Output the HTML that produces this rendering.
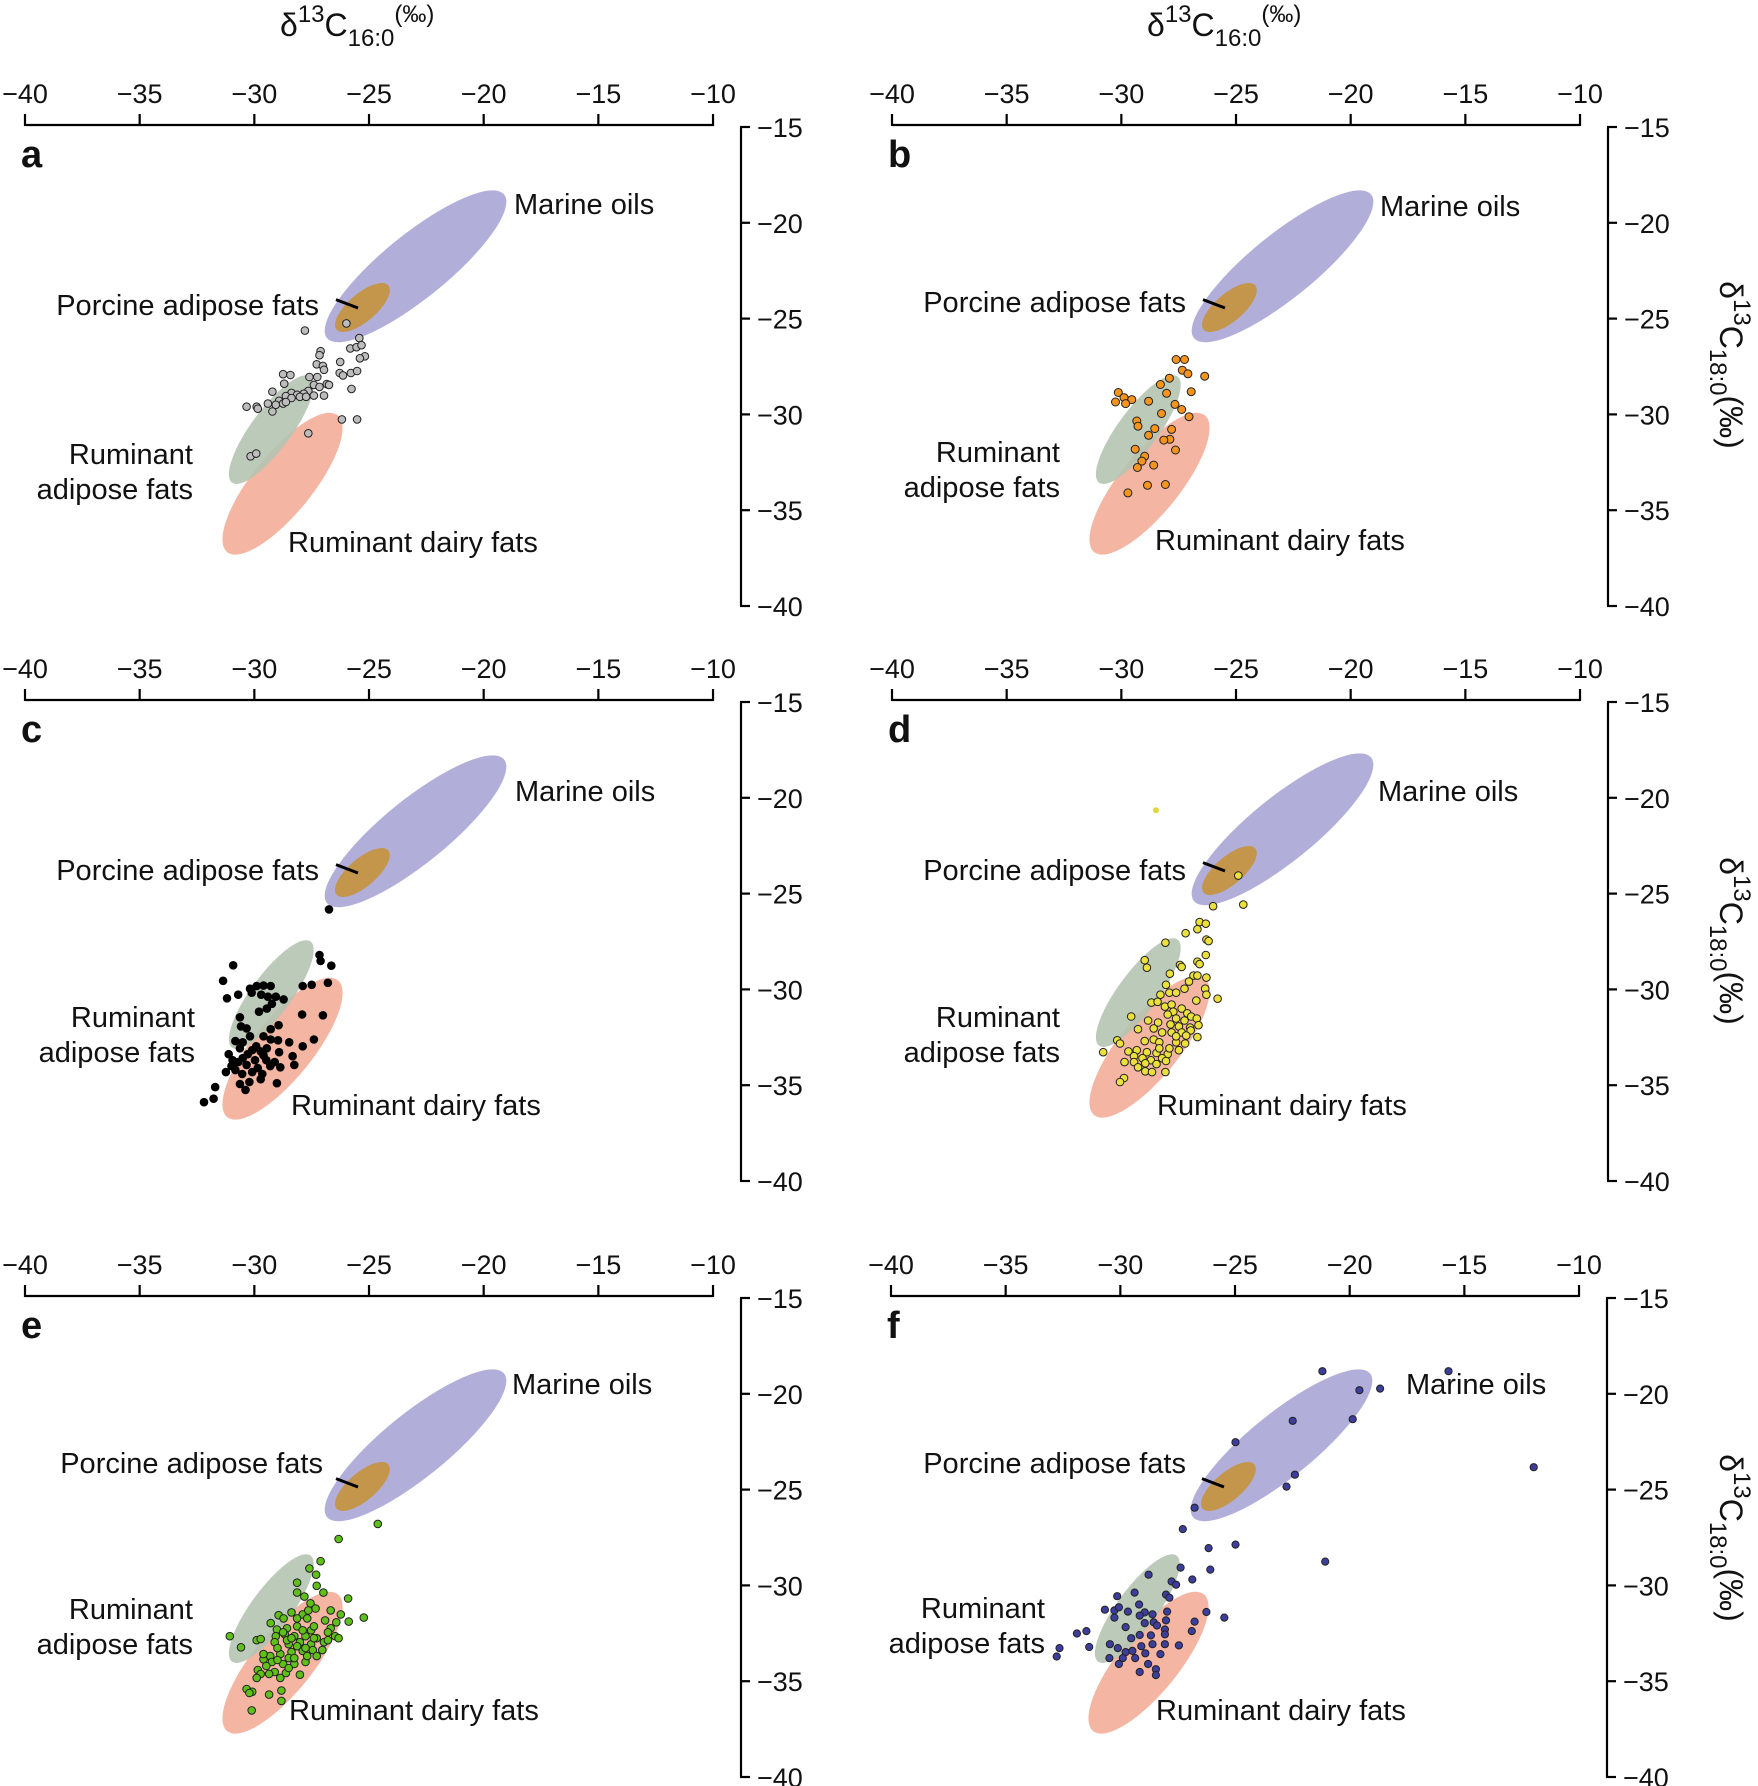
<!DOCTYPE html>
<html><head><meta charset="utf-8"><style>
html,body{margin:0;padding:0;background:#fff}
svg{display:block}
text{font-family:"Liberation Sans",Arial,sans-serif;fill:#111}
.t{font-size:27px}
.l{font-size:29px}
.h{font-size:32px}
.p{font-size:38px;font-weight:bold}
</style></head><body>
<svg id="s" width="1758" height="1786" viewBox="0 0 1758 1786" xmlns="http://www.w3.org/2000/svg">
<text x="280" y="36" class="h">δ<tspan dy="-14" font-size="24">13</tspan><tspan dy="14">C</tspan><tspan dy="10" font-size="24">16:0</tspan><tspan dy="-24" font-size="24">(‰)</tspan></text>
<text x="1147" y="36" class="h">δ<tspan dy="-14" font-size="24">13</tspan><tspan dy="14">C</tspan><tspan dy="10" font-size="24">16:0</tspan><tspan dy="-24" font-size="24">(‰)</tspan></text>
<text transform="translate(1720,365) rotate(90)" text-anchor="middle" class="h">δ<tspan dy="-14" font-size="24">13</tspan><tspan dy="14">C</tspan><tspan dy="10" font-size="24">18:0</tspan><tspan dy="-10">(‰)</tspan></text>
<text transform="translate(1720,941) rotate(90)" text-anchor="middle" class="h">δ<tspan dy="-14" font-size="24">13</tspan><tspan dy="14">C</tspan><tspan dy="10" font-size="24">18:0</tspan><tspan dy="-10">(‰)</tspan></text>
<text transform="translate(1720,1538) rotate(90)" text-anchor="middle" class="h">δ<tspan dy="-14" font-size="24">13</tspan><tspan dy="14">C</tspan><tspan dy="10" font-size="24">18:0</tspan><tspan dy="-10">(‰)</tspan></text>

<g id="pa" transform="translate(25,125)">
<text x="-4" y="42" class="p">a</text>
<text x="489" y="89" class="l">Marine oils</text>
<text x="294" y="190" class="l" text-anchor="end">Porcine adipose fats</text>
<text x="168" y="339" class="l" text-anchor="end">Ruminant</text>
<text x="168" y="374" class="l" text-anchor="end">adipose fats</text>
<text x="263" y="427" class="l">Ruminant dairy fats</text>
</g>
<g id="pb" transform="translate(892,125)">
<text x="-4" y="42" class="p">b</text>
<text x="488" y="91" class="l">Marine oils</text>
<text x="294" y="187" class="l" text-anchor="end">Porcine adipose fats</text>
<text x="168" y="337" class="l" text-anchor="end">Ruminant</text>
<text x="168" y="372" class="l" text-anchor="end">adipose fats</text>
<text x="263" y="425" class="l">Ruminant dairy fats</text>
</g>
<g id="pc" transform="translate(25,700)">
<text x="-4" y="42" class="p">c</text>
<text x="490" y="101" class="l">Marine oils</text>
<text x="294" y="180" class="l" text-anchor="end">Porcine adipose fats</text>
<text x="170" y="327" class="l" text-anchor="end">Ruminant</text>
<text x="170" y="362" class="l" text-anchor="end">adipose fats</text>
<text x="266" y="415" class="l">Ruminant dairy fats</text>
</g>
<g id="pd" transform="translate(892,700)">
<text x="-4" y="42" class="p">d</text>
<text x="486" y="101" class="l">Marine oils</text>
<text x="294" y="180" class="l" text-anchor="end">Porcine adipose fats</text>
<text x="168" y="327" class="l" text-anchor="end">Ruminant</text>
<text x="168" y="362" class="l" text-anchor="end">adipose fats</text>
<text x="265" y="415" class="l">Ruminant dairy fats</text>
</g>
<g id="pe" transform="translate(25,1296)">
<text x="-4" y="42" class="p">e</text>
<text x="487" y="98" class="l">Marine oils</text>
<text x="298" y="177" class="l" text-anchor="end">Porcine adipose fats</text>
<text x="168" y="323" class="l" text-anchor="end">Ruminant</text>
<text x="168" y="358" class="l" text-anchor="end">adipose fats</text>
<text x="264" y="424" class="l">Ruminant dairy fats</text>
</g>
<g id="pf" transform="translate(891,1296)">
<text x="-4" y="42" class="p">f</text>
<text x="515" y="98" class="l">Marine oils</text>
<text x="295" y="177" class="l" text-anchor="end">Porcine adipose fats</text>
<text x="154" y="322" class="l" text-anchor="end">Ruminant</text>
<text x="154" y="357" class="l" text-anchor="end">adipose fats</text>
<text x="265" y="424" class="l">Ruminant dairy fats</text>
</g>
</svg>
<script>
var NS="http://www.w3.org/2000/svg",S=document.getElementById("s");
function el(p,t,a){var e=document.createElementNS(NS,t);for(var k in a)e.setAttribute(k,a[k]);p.appendChild(e);return e;}
var panels=["pa","pb","pc","pd","pe","pf"];
var labs=["−40","−35","−30","−25","−20","−15","−10"],ylabs=["−15","−20","−25","−30","−35","−40"];
var oy={pa:0,pb:0,pc:-10,pd:-12,pe:8,pf:8};
panels.forEach(function(id){
 var g=document.getElementById(id);var first=g.firstChild;
 var bg=document.createElementNS(NS,"g");g.insertBefore(bg,first);
 var d=oy[id];
 var sh=el(bg,"g",{transform:"translate(0,"+d+")"});
 el(sh,"ellipse",{cx:257.5,cy:358.7,rx:88,ry:30,fill:"#f4b5a3",transform:"rotate(-51 257.5 358.7)"});
 el(sh,"ellipse",{cx:246.3,cy:304.6,rx:66,ry:20,fill:"#b5c4b1","fill-opacity":0.9,transform:"rotate(-53.5 246.3 304.6)"});
 el(sh,"ellipse",{cx:390.5,cy:141.3,rx:114,ry:32,fill:"#b1afda",transform:"rotate(-39 390.5 141.3)"});
 el(sh,"ellipse",{cx:337.4,cy:182.5,rx:34,ry:14,fill:"#c4964c",transform:"rotate(-40.5 337.4 182.5)"});
 el(sh,"line",{x1:311,y1:174.6,x2:333,y2:183,stroke:"#000","stroke-width":3});
 el(g,"line",{x1:0,y1:0,x2:688,y2:0,stroke:"#000","stroke-width":2.2});
 for(var i=0;i<7;i++){var x=i*114.67;el(g,"line",{x1:x,y1:-11,x2:x,y2:1,stroke:"#000","stroke-width":2.2});
  var t=el(g,"text",{x:x,y:-22,"text-anchor":"middle","class":"t"});t.textContent=labs[i];}
 el(g,"line",{x1:716,y1:2,x2:716,y2:481,stroke:"#000","stroke-width":2.2});
 for(var j=0;j<6;j++){var y=2+j*95.8;el(g,"line",{x1:715,y1:y,x2:725,y2:y,stroke:"#000","stroke-width":2.2});
  var t2=el(g,"text",{x:732,y:y+10,"class":"t"});t2.textContent=ylabs[j];}
});
var P=[
[0,0,"#bdbdbd",3.8,1,[[618,815],[544,833],[641,852],[625,878],[636,875],[645,870],[572,885],[570,895],[651,898],[642,903],[607,912],[565,918],[576,922],[578,932],[606,940],[612,946],[626,940],[637,935],[505,943],[518,945],[552,950],[566,950],[507,967],[583,968],[560,970],[570,975],[587,970],[627,980],[486,987],[520,990],[550,985],[542,992],[560,997],[578,997],[510,998],[530,995],[498,1010],[520,1003],[535,1000],[546,1000],[478,1017],[492,1020],[505,1017],[510,1013],[440,1025],[458,1025],[460,1030],[486,1037],[610,1057],[637,1057],[550,1092],[447,1150],[457,1143]]],
[879,0,"#f7941d",4,1,[[530,906],[545,906],[541,933],[551,942],[581,948],[518,953],[502,969],[557,987],[513,991],[427,989],[437,1002],[451,1007],[422,1013],[440,1017],[481,1011],[528,1019],[540,1032],[504,1042],[553,1050],[460,1061],[462,1074],[492,1080],[522,1082],[481,1097],[519,1107],[508,1109],[529,1134],[457,1132],[474,1150],[469,1162],[490,1172],[461,1178],[511,1221],[479,1223],[444,1242]]],
[0,580,"#000",4.3,0,[[587,830],[416,971],[398,1010],[570,945],[572,960],[591,972],[585,1015],[540,1023],[556,1020],[446,1030],[458,1023],[470,1022],[483,1023],[449,1040],[466,1045],[478,1050],[492,1050],[506,1057],[405,1054],[425,1045],[462,1088],[476,1080],[485,1068],[428,1102],[539,1095],[576,1097],[430,1125],[440,1130],[497,1122],[483,1132],[446,1150],[420,1162],[470,1150],[483,1158],[496,1160],[516,1165],[560,1158],[540,1175],[428,1180],[450,1185],[465,1188],[476,1180],[498,1190],[522,1200],[415,1210],[433,1205],[455,1210],[470,1198],[490,1215],[413,1225],[440,1222],[482,1225],[500,1228],[525,1222],[420,1235],[432,1245],[450,1240],[403,1240],[468,1245],[445,1265],[465,1258],[428,1270],[438,1285],[494,1268],[384,1278],[381,1307],[364,1316],[408,1195],[442,1195],[457,1175],[433,1165],[425,1215],[460,1230],[475,1210]]],
[879,580,"#ebe03c",3.8,1,[[641,745],[596,822],[650,818],[572,862],[583,866],[568,880],[547,890],[584,906],[588,910],[511,914],[583,945],[474,958],[478,977],[568,962],[572,968],[537,970],[540,975],[519,992],[561,997],[568,997],[584,1002],[512,1020],[553,1012],[545,1030],[582,1030],[584,1045],[566,1060],[604,1055],[502,1045],[518,1040],[530,1040],[486,1065],[497,1063],[510,1075],[522,1070],[540,1080],[550,1092],[525,1088],[515,1095],[557,1100],[567,1105],[530,1105],[545,1110],[450,1100],[480,1110],[498,1115],[520,1120],[535,1125],[555,1128],[570,1122],[462,1132],[490,1130],[505,1140],[522,1140],[540,1140],[556,1135],[568,1152],[474,1162],[490,1158],[500,1165],[530,1165],[546,1168],[425,1160],[430,1168],[445,1188],[460,1185],[478,1190],[495,1192],[515,1195],[535,1185],[400,1190],[455,1200],[470,1205],[485,1210],[505,1205],[438,1215],[455,1215],[475,1218],[495,1220],[512,1212],[462,1228],[475,1238],[487,1240],[511,1240],[437,1255],[430,1265],[530,1150],[548,1148],[518,1180],[500,1180]]],
[0,1166,"#5fc01a",3.8,1,[[674,902],[604,940],[572,996],[552,1014],[564,1030],[530,1050],[565,1058],[577,1075],[530,1075],[543,1085],[621,1090],[554,1102],[563,1115],[590,1120],[497,1132],[520,1125],[540,1130],[608,1130],[649,1138],[622,1148],[506,1140],[548,1140],[580,1145],[483,1152],[494,1168],[512,1165],[530,1160],[555,1170],[590,1165],[410,1185],[430,1213],[458,1195],[465,1192],[492,1185],[508,1180],[525,1185],[545,1185],[565,1190],[598,1185],[604,1190],[490,1200],[515,1205],[535,1200],[555,1205],[578,1200],[470,1243],[482,1235],[500,1230],[520,1225],[540,1222],[558,1220],[575,1220],[485,1250],[505,1255],[525,1255],[545,1250],[460,1270],[465,1280],[490,1275],[510,1278],[535,1282],[458,1290],[440,1318],[450,1325],[445,1328],[480,1332],[502,1322],[502,1348],[449,1372],[512,1195],[530,1210],[495,1215],[548,1235],[515,1240],[475,1260],[565,1235],[585,1175],[600,1150],[470,1230],[500,1290],[520,1190],[540,1170],[560,1160],[505,1175],[525,1240],[545,1215],[495,1245],[515,1265],[480,1280],[560,1190],[585,1195],[530,1140],[550,1120]]],
[879,1166,"#3d3d9c",3.6,1,[[791,517],[1016,517],[857,565],[894,561],[738,642],[845,638],[636,696],[742,778],[727,808],[1168,759],[563,861],[542,915],[588,963],[636,954],[796,997],[538,1012],[591,1017],[481,1030],[559,1042],[522,1047],[530,1055],[456,1075],[425,1084],[512,1080],[518,1088],[464,1105],[403,1118],[420,1120],[428,1112],[444,1123],[474,1125],[465,1133],[488,1130],[514,1123],[420,1138],[440,1162],[584,1124],[616,1138],[490,1150],[512,1145],[496,1158],[563,1148],[474,1152],[510,1168],[353,1178],[370,1172],[375,1212],[412,1205],[450,1190],[465,1182],[485,1183],[510,1180],[558,1172],[426,1215],[440,1225],[452,1222],[468,1210],[488,1205],[510,1205],[535,1208],[322,1215],[317,1236],[411,1240],[435,1240],[457,1240],[475,1228],[502,1230],[428,1255],[480,1255],[465,1275],[494,1268],[494,1283]]]
];
var pg=el(S,"g",{});
P.forEach(function(p){p[5].forEach(function(q){
 var a={cx:(p[0]+q[0]/1.784).toFixed(1),cy:(p[1]+q[1]/2.52).toFixed(1),r:p[3],fill:p[2]};
 if(p[4]){a.stroke="#222";a["stroke-width"]=1;}
 el(pg,"circle",a);});});
el(pg,"circle",{cx:(879+494/1.784).toFixed(1),cy:(580+580/2.52).toFixed(1),r:3,fill:"#e0d83c"});
</script>
</body></html>
